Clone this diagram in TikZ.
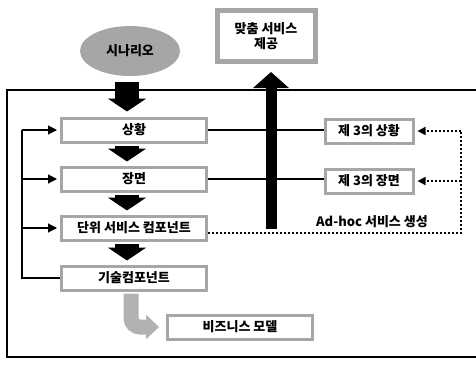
\documentclass[tikz,border=0pt]{standalone}
\usepackage{fontspec}
\setmainfont{Noto Sans CJK KR}
\usetikzlibrary{arrows.meta,shapes.geometric}
\tikzset{
  krtext/.style={font=\bfseries\fontsize{13}{15}\selectfont},
  gbox/.style={krtext, draw=black!35, line width=3pt, fill=white, minimum width=145pt, minimum height=24pt, inner sep=0pt},
  tbox/.style={krtext, draw=black!35, line width=3pt, fill=white, minimum width=88pt, minimum height=24pt, inner sep=0pt},
  pbox/.style={krtext, draw=black!35, line width=5pt, fill=white, minimum width=98pt, minimum height=51pt, align=center},
  scen/.style={krtext, ellipse, fill=black!35, minimum width=100pt, minimum height=50pt},
  link/.style={line width=1.1pt},
  fbline/.style={line width=1.2pt},
  fbarrow/.style={line width=1.2pt, -{Triangle[width=9pt,length=9pt]}, shorten >=3pt},
  dotline/.style={line width=1.6pt, dash pattern=on 1.6pt off 2.4pt},
  dotarrow/.style={dotline, -{Triangle[width=8pt,length=8pt]}, shorten >=3pt},
  downarrow/.style={line width=24pt, -{Triangle[width=38pt,length=13pt]}},
  uparrow/.style={line width=11pt, -{Triangle[width=35pt,length=16pt]}, shorten >=8pt},
  grayarrow/.style={line width=15pt, black!30, rounded corners=9pt, -{Triangle[width=24pt,length=13pt]}, shorten >=7pt}
}
\begin{document}
\begin{tikzpicture}[x=1pt,y=-1pt]
\useasboundingbox (0,0) rectangle (476,365);
\draw[line width=1.6pt] (480,90) -- (7,90) -- (7,357) -- (480,357);
\node[scen] (scen) at (130,51){시나리오};
\node[pbox] (prov) at (266,36){맞춤 서비스\\제공};
\node[gbox] (sit) at (134,130){상황};
\node[gbox] (scene) at (134,179){장면};
\node[gbox] (unit) at (134,228){단위 서비스 컴포넌트};
\node[gbox] (tech) at (134,278){기술컴포넌트};
\node[gbox] (biz) at (240,327){비즈니스 모델};
\node[tbox] (sit3) at (369,131){제 3의 상황};
\node[tbox] (scene3) at (369,181){제 3의 장면};
\node[krtext] (adhoc) at (372,222){Ad-hoc 서비스 생성};
\coordinate (arrx) at (127,0);
\coordinate (fbx) at (22,0);
\coordinate (dotx) at (461,0);
\coordinate (upbase) at (271,229);
\draw[link](sit.east) -- (sit.east -| sit3.west);
\draw[link](scene.east) -- (scene.east -| scene3.west);
\draw[uparrow](upbase) -- (upbase |- prov.south);
\draw[downarrow, shorten <=6pt, shorten >=5pt](arrx |- scen.south) -- (arrx |- sit.north);
\draw[downarrow, shorten <=2pt, shorten >=4pt](arrx |- sit.south) -- (arrx |- scene.north);
\draw[downarrow, shorten <=2pt, shorten >=4pt](arrx |- scene.south) -- (arrx |- unit.north);
\draw[downarrow, shorten <=2pt, shorten >=4pt](arrx |- unit.south) -- (arrx |- tech.north);
\draw[fbline](tech.west) -- (fbx |- tech.west) -- (fbx |- sit.west);
\draw[fbarrow](fbx |- sit.west) -- (sit.west);
\draw[fbarrow](fbx |- scene.west) -- (scene.west);
\draw[fbarrow](fbx |- unit.west) -- (unit.west);
\draw[dotline]([yshift=-5pt]unit.east) -- ([yshift=-5pt]unit.east -| dotx) -- (dotx |- sit3.east);
\draw[dotarrow](dotx |- sit3.east) -- (sit3.east);
\draw[dotarrow](dotx |- scene3.east) -- (scene3.east);
\draw[grayarrow, shorten <=2pt]([xshift=-3pt]tech.south) |- (biz.west);
\end{tikzpicture}
\end{document}
